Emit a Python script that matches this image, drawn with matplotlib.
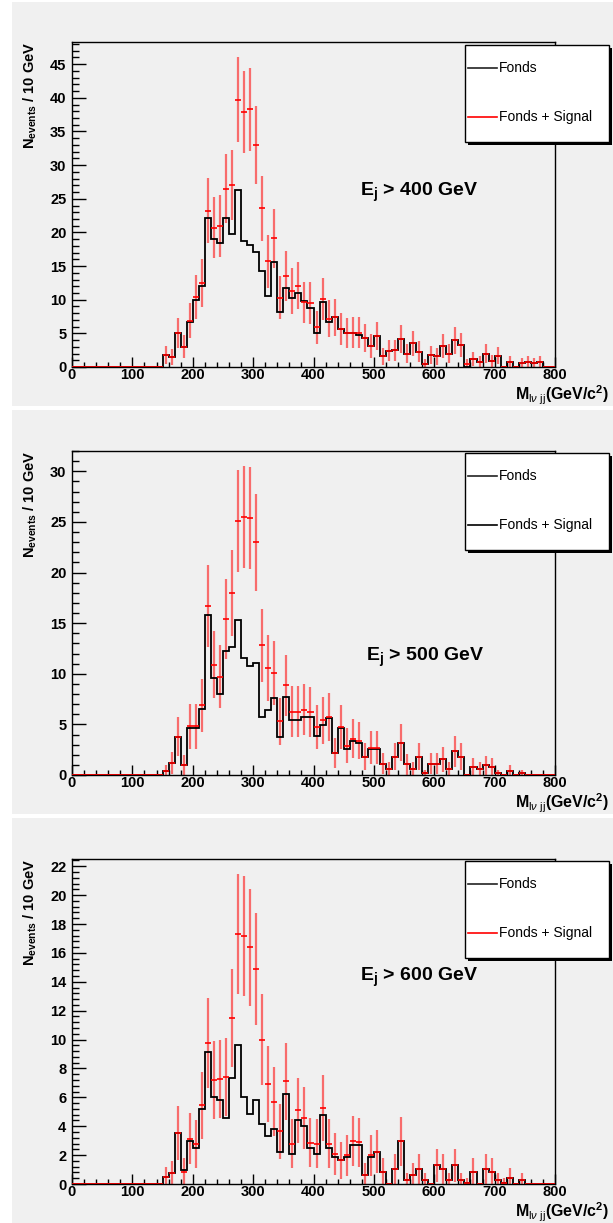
import numpy as np
import matplotlib
matplotlib.use('Agg')
import matplotlib.pyplot as plt
from matplotlib.patches import Rectangle
from matplotlib.lines import Line2D
from matplotlib.ticker import MultipleLocator

plt.rcParams['font.family'] = ['Liberation Sans', 'DejaVu Sans']
plt.rcParams['mathtext.fontset'] = 'custom'
plt.rcParams['mathtext.rm'] = 'Liberation Sans'
plt.rcParams['mathtext.bf'] = 'Liberation Sans:bold'
plt.rcParams['mathtext.it'] = 'Liberation Sans:italic'

# ---------------- data (10 GeV bins, 0-800 GeV) ----------------
bin_edges = np.arange(0, 810, 10)
zeros_below_150 = [0] * 15

fonds_400 = zeros_below_150 + [
    1.8, 1.5, 5.0, 3.0, 6.7, 10.0, 12.1, 22.1, 19.0, 18.5,
    22.1, 19.7, 26.3, 18.7, 18.2, 17.1, 14.3, 10.6, 15.6, 8.1,
    11.8, 10.2, 11.0, 9.8, 8.8, 5.0, 9.6, 6.7, 7.4, 5.6,
    5.0, 5.1, 4.8, 4.3, 3.1, 4.6, 1.6, 2.4, 2.5, 4.2,
    2.0, 3.5, 2.3, 0.5, 1.8, 1.6, 3.1, 2.0, 4.0, 3.3,
    0, 1.2, 0.8, 2.0, 0.9, 1.7, 0, 0.8, 0, 0.6, 0.8, 0.6, 0.8, 0, 0]
signal_400 = zeros_below_150 + [
    1.8, 1.5, 5.05, 3.0, 6.9, 10.4, 12.5, 23.2, 20.7, 21.0,
    26.5, 27.1, 39.7, 37.9, 38.3, 33.0, 23.6, 15.7, 19.1, 10.3,
    13.5, 11.3, 12.1, 9.6, 9.5, 5.9, 10.1, 7.2, 7.4, 5.6,
    5.0, 5.1, 5.1, 4.3, 3.1, 4.6, 1.6, 2.4, 2.5, 4.2,
    2.0, 3.5, 2.3, 0.5, 1.8, 1.6, 3.1, 2.0, 4.0, 3.3,
    0.5, 1.2, 0.8, 2.0, 0.9, 1.7, 0, 0.8, 0, 0.6, 0.8, 0.6, 0.8, 0, 0]

fonds_500 = zeros_below_150 + [
    0.4, 1.15, 3.8, 0.95, 4.6, 4.6, 6.5, 15.8, 9.6, 8.0,
    12.2, 12.6, 15.3, 11.6, 10.8, 11.05, 5.75, 6.4, 7.6, 3.75,
    7.75, 5.4, 5.4, 5.75, 5.75, 3.9, 4.9, 5.6, 2.2, 4.6,
    2.6, 3.35, 3.2, 1.8, 2.6, 2.6, 1.1, 0.55, 1.8, 3.2,
    1.05, 0.55, 1.8, 0.15, 1.1, 1.1, 1.55, 0.55, 2.35, 1.8,
    0, 0.8, 0.55, 0.95, 0.8, 0.15, 0, 0.35, 0, 0.15, 0, 0, 0, 0, 0]
signal_500 = zeros_below_150 + [
    0.4, 1.15, 3.8, 1.0, 4.8, 4.8, 6.9, 16.7, 10.9, 9.7,
    15.4, 18.0, 25.1, 25.5, 25.4, 23.0, 12.8, 10.6, 10.1, 5.3,
    8.85, 6.25, 6.25, 6.45, 6.2, 4.75, 5.4, 5.75, 2.2, 4.7,
    2.9, 3.6, 3.4, 1.8, 2.7, 2.7, 1.1, 0.55, 1.8, 3.2,
    1.05, 0.55, 1.8, 0.15, 1.1, 1.1, 1.55, 0.55, 2.35, 1.8,
    0, 0.8, 0.55, 0.95, 0.8, 0.15, 0, 0.35, 0, 0.15, 0, 0, 0, 0, 0]

fonds_600 = zeros_below_150 + [
    0.5, 0.75, 3.55, 1.0, 2.95, 2.5, 5.2, 9.15, 6.05, 5.85,
    4.6, 7.35, 9.6, 6.05, 4.85, 5.85, 4.15, 3.35, 3.8, 2.25,
    6.2, 2.1, 4.4, 4.0, 2.5, 2.1, 4.8, 2.5, 1.9, 1.65,
    1.85, 2.7, 2.7, 0.65, 1.85, 2.2, 0.85, 0, 1.05, 2.95,
    0.25, 0.65, 1.05, 0.25, 0, 1.3, 1.05, 0.25, 1.3, 0.25,
    0.1, 0.85, 0, 1.05, 0.85, 0.25, 0.1, 0.45, 0, 0.25, 0, 0, 0, 0, 0]
signal_600 = zeros_below_150 + [
    0.5, 0.75, 3.55, 0.85, 3.15, 2.75, 5.45, 9.75, 7.2, 7.3,
    7.4, 11.5, 17.3, 17.15, 16.4, 14.9, 10.0, 6.9, 5.7, 3.65,
    7.1, 2.8, 5.1, 4.55, 2.85, 2.8, 5.25, 2.8, 2.1, 1.65,
    2.0, 3.0, 2.9, 0.65, 2.0, 2.25, 0.85, 0, 1.05, 2.95,
    0.25, 0.65, 1.05, 0.25, 0, 1.3, 1.05, 0.25, 1.3, 0.25,
    0.1, 0.85, 0, 1.05, 0.85, 0.25, 0.1, 0.45, 0, 0.25, 0, 0, 0, 0, 0]

cut_labels = ['400', '500', '600']
y_max = [48.3, 32.0, 22.5]
y_major = [5, 5, 2]
y_minor = [1, 1, 0.4]
cut_text_pos = [(477, 26.0), (487, 11.6), (477, 14.3)]
legend_label_bkg = 'Fonds'
legend_label_sig = 'Fonds + Signal'

# ---------------- layout (pixels) ----------------
W, H = 613, 1223
fig = plt.figure(figsize=(W / 100, H / 100), dpi=100)
fig.patch.set_facecolor('white')


def fx(px):
    return px / W


def fy(py):
    return 1 - py / H


pad_color = '#f0f0f0'
pads = [(2, 406), (410, 814), (818, 1223)]
frames = [(42, 367), (451, 775), (859, 1184)]
AX_L, AX_R = 72, 555

datasets = [(fonds_400, signal_400), (fonds_500, signal_500), (fonds_600, signal_600)]
sig_leg_colors = ['red', 'black', 'red']

for i in range(3):
    pt, pb = pads[i]
    fig.add_artist(Rectangle((fx(12), fy(pb)), (W - 12) / W, (pb - pt) / H,
                             transform=fig.transFigure, facecolor=pad_color,
                             edgecolor='none', zorder=-5))
    ft, fb = frames[i]
    ax = fig.add_axes([fx(AX_L), fy(fb), (AX_R - AX_L) / W, (fb - ft) / H])
    ax.set_facecolor(pad_color)
    bkg = np.array(datasets[i][0], dtype=float)
    sig = np.array(datasets[i][1], dtype=float)
    centers = 0.5 * (bin_edges[:-1] + bin_edges[1:])

    # red errors (signal + background)
    ax.vlines(centers, sig - np.sqrt(sig), sig + np.sqrt(sig), color='red',
              lw=1.6, alpha=0.55, zorder=2)
    ax.stairs(bkg, bin_edges, color='black', lw=1.3, zorder=3)
    ax.hlines(sig, bin_edges[:-1], bin_edges[1:], color='red', lw=1.2, zorder=4)

    ax.set_xlim(0, 800)
    ax.set_ylim(0, y_max[i])
    ax.xaxis.set_major_locator(MultipleLocator(100))
    ax.xaxis.set_minor_locator(MultipleLocator(20))
    ax.yaxis.set_major_locator(MultipleLocator(y_major[i]))
    ax.yaxis.set_minor_locator(MultipleLocator(y_minor[i]))
    ax.tick_params(which='both', direction='in', top=False, right=False, width=1)
    ax.tick_params(axis='y', which='major', length=10.4, pad=4)
    ax.tick_params(axis='y', which='minor', length=5.2)
    ax.tick_params(axis='x', which='major', length=7, pad=0.5)
    ax.tick_params(axis='x', which='minor', length=3.5)
    for lab in ax.get_xticklabels() + ax.get_yticklabels():
        lab.set_fontsize(10.5)
        lab.set_fontweight('bold')
    for s in ax.spines.values():
        s.set_linewidth(1.0)

    ax.text(-0.087, 1.0, r'$\mathbf{N}_{\mathbf{events}}$ / 10 GeV',
            transform=ax.transAxes, rotation=90, ha='center', va='top',
            fontsize=10.5, fontweight='bold')
    ax.text((609 - AX_L) / (AX_R - AX_L), -28 / (fb - ft),
            r'$\mathbf{M}_{\mathrm{l}\nu\ \mathrm{jj}}$(GeV/c$^{\mathbf{2}}$)',
            transform=ax.transAxes, ha='right', va='center',
            fontsize=11.5, fontweight='bold')
    tx, ty = cut_text_pos[i]
    ax.text(tx, ty, r'$\mathbf{E}_{\mathbf{j}}$ > ' + cut_labels[i] + ' GeV',
            ha='left', va='center', fontsize=14, fontweight='bold')

    # legend box with shadow
    lt, lb = pt + 43, pt + 140
    fig.add_artist(Rectangle((fx(468), fy(lb + 3)), (612 - 468) / W, (lb - lt) / H,
                             transform=fig.transFigure, facecolor='black',
                             edgecolor='none', zorder=5))
    fig.add_artist(Rectangle((fx(465), fy(lb)), (609 - 465) / W, (lb - lt) / H,
                             transform=fig.transFigure, facecolor='white',
                             edgecolor='black', lw=1.0, zorder=6))
    for yy, lab, col in [(pt + 66, legend_label_bkg, '#222222'),
                         (pt + 115, legend_label_sig, sig_leg_colors[i])]:
        fig.add_artist(Line2D([fx(468), fx(497)], [fy(yy), fy(yy)],
                              transform=fig.transFigure, color=col, lw=1.2, zorder=7))
        fig.text(fx(499), fy(yy), lab, ha='left', va='center', fontsize=10, zorder=7)

fig.savefig('out.png', dpi=100)
